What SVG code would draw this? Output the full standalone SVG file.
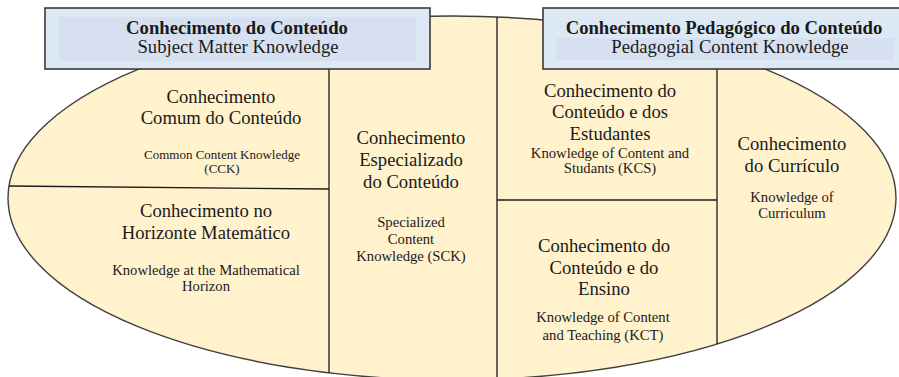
<svg xmlns="http://www.w3.org/2000/svg" width="899" height="377" viewBox="0 0 899 377" font-family="'Liberation Serif', 'Times New Roman', 'DejaVu Serif', serif">
<style>
  text { font-family: "Liberation Serif", "Times New Roman", "DejaVu Serif", serif; fill: #1a1a1a; text-anchor: middle; }
  .big { font-size: 18.67px; }
  .bold { font-size: 18.67px; font-weight: bold; }
  .small { font-size: 14.67px; }
  .tiny { font-size: 13px; }
  .div { stroke: #1a1a1a; stroke-width: 1.3; fill: none; }
  .box { fill: #dde8f5; stroke: #3a3a3a; stroke-width: 1.6; }
  .inner { fill: #d6e0f0; stroke: none; }
</style>
<rect width="899" height="377" fill="#ffffff"/>
<g id="ellipse">
  <ellipse cx="452" cy="198" rx="444" ry="182" fill="#fff2cc" stroke="#404040" stroke-width="1.4"/>
</g>
<g id="connectors">
  <line class="div" x1="329" y1="69" x2="329" y2="373"/>
  <line class="div" x1="497" y1="17" x2="497" y2="377"/>
  <line class="div" x1="717" y1="69" x2="717" y2="344"/>
  <line class="div" x1="9" y1="186" x2="329" y2="189"/>
  <line class="div" x1="497" y1="200" x2="717" y2="200"/>
</g>
<g id="title-smk">
  <rect class="box" x="45" y="8" width="385" height="61"/>
  <rect class="inner" x="59" y="17" width="357" height="44"/>
  <text class="bold" x="237" y="34">Conhecimento do Conteúdo</text>
  <text class="big" x="238" y="53">Subject Matter Knowledge</text>
</g>
<g id="title-pck">
  <rect class="box" x="543" y="8" width="360" height="61"/>
  <rect class="inner" x="556" y="38" width="338" height="22"/>
  <text class="bold" x="724" y="34">Conhecimento Pedagógico do Conteúdo</text>
  <text class="big" x="730" y="53">Pedagogial Content Knowledge</text>
</g>
<g id="node-cck">
  <text class="big" x="221" y="103">Conhecimento</text>
  <text class="big" x="221" y="124">Comum do Conteúdo</text>
  <text class="tiny" x="222" y="159">Common Content Knowledge</text>
  <text class="tiny" x="222" y="173">(CCK)</text>
</g>
<g id="node-horizon">
  <text class="big" x="206" y="217">Conhecimento no</text>
  <text class="big" x="206" y="239">Horizonte Matemático</text>
  <text class="small" x="206" y="275">Knowledge at the Mathematical</text>
  <text class="small" x="206" y="291">Horizon</text>
</g>
<g id="node-sck">
  <text class="big" x="411" y="144">Conhecimento</text>
  <text class="big" x="411" y="166">Especializado</text>
  <text class="big" x="411" y="188">do Conteúdo</text>
  <text class="small" x="411" y="227">Specialized</text>
  <text class="small" x="411" y="244">Content</text>
  <text class="small" x="411" y="261">Knowledge (SCK)</text>
</g>
<g id="node-kcs">
  <text class="big" x="610" y="97">Conhecimento do</text>
  <text class="big" x="610" y="118">Conteúdo e dos</text>
  <text class="big" x="610" y="140">Estudantes</text>
  <text class="small" x="610" y="158">Knowledge of Content and</text>
  <text class="small" x="610" y="173">Studants (KCS)</text>
</g>
<g id="node-kct">
  <text class="big" x="604" y="252">Conhecimento do</text>
  <text class="big" x="604" y="274">Conteúdo e do</text>
  <text class="big" x="604" y="295">Ensino</text>
  <text class="small" x="603" y="322">Knowledge of Content</text>
  <text class="small" x="603" y="340">and Teaching (KCT)</text>
</g>
<g id="node-curriculum">
  <text class="big" x="792" y="150">Conhecimento</text>
  <text class="big" x="792" y="172">do Currículo</text>
  <text class="small" x="792" y="202">Knowledge of</text>
  <text class="small" x="792" y="218">Curriculum</text>
</g>
</svg>
